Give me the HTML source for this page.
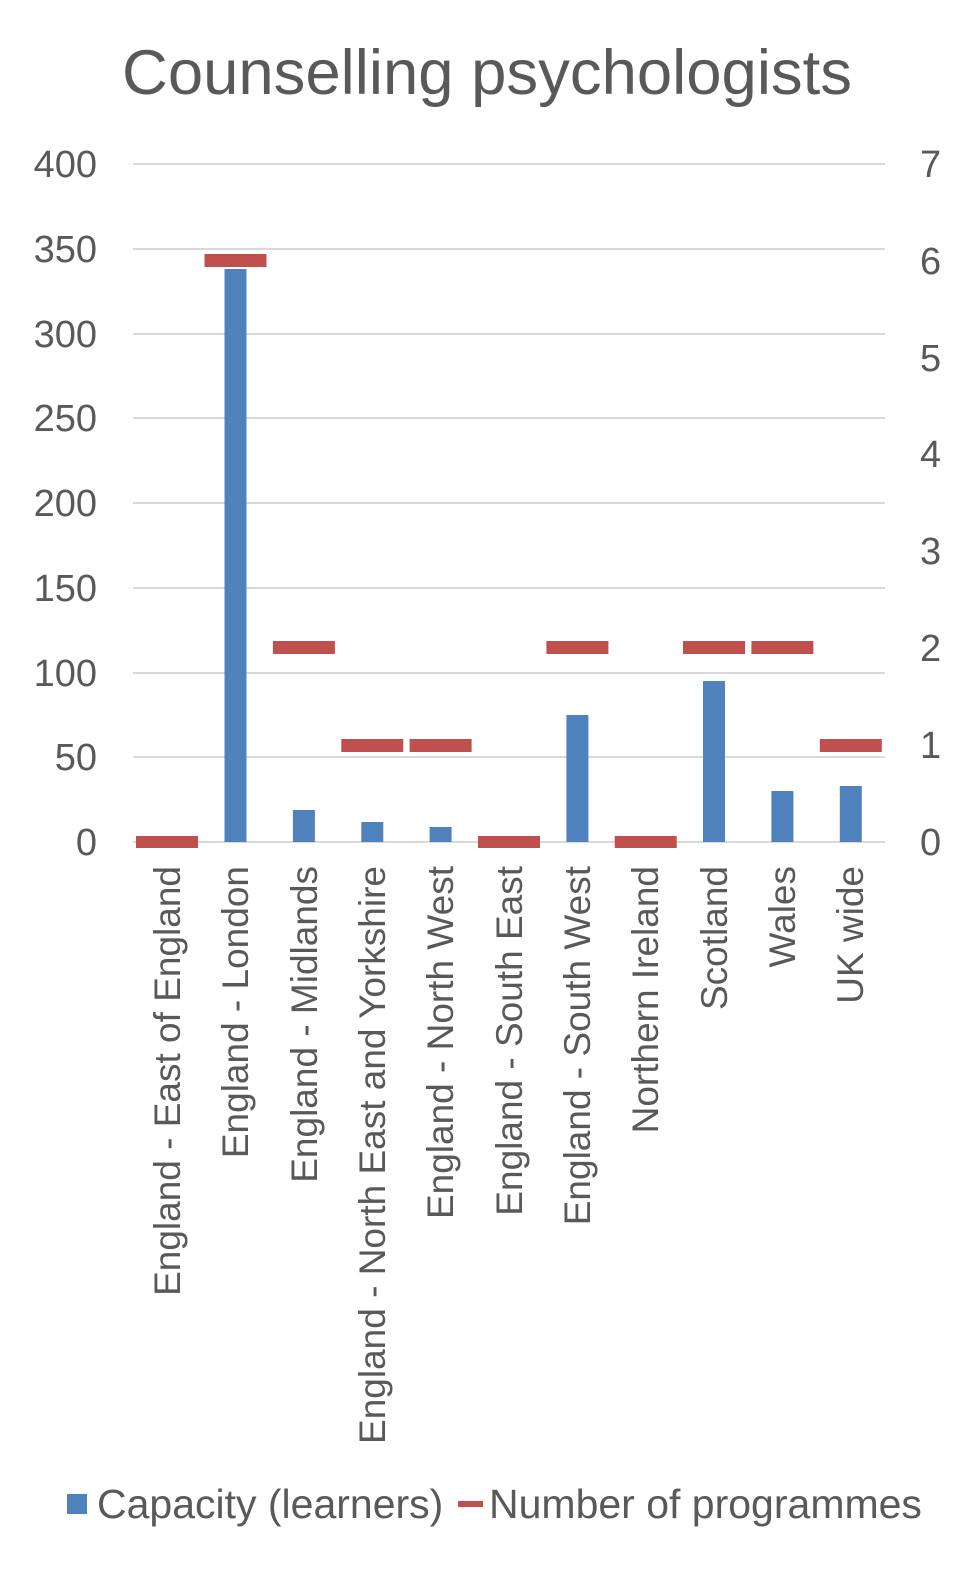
<!DOCTYPE html>
<html><head><meta charset="utf-8"><style>
html,body{margin:0;padding:0;background:#fff;}
svg{display:block;font-family:"Liberation Sans",Arial,sans-serif;}
</style></head><body>
<svg width="979" height="1577" viewBox="0 0 979 1577" xmlns="http://www.w3.org/2000/svg">
<rect width="979" height="1577" fill="#fff"/>
<text x="487" y="94" font-size="63" fill="#595959" text-anchor="middle" textLength="730" lengthAdjust="spacingAndGlyphs">Counselling psychologists</text>
<g stroke="#d9d9d9" stroke-width="2">
<line x1="133" x2="885" y1="164" y2="164"/>
<line x1="133" x2="885" y1="249" y2="249"/>
<line x1="133" x2="885" y1="334" y2="334"/>
<line x1="133" x2="885" y1="418" y2="418"/>
<line x1="133" x2="885" y1="503" y2="503"/>
<line x1="133" x2="885" y1="588" y2="588"/>
<line x1="133" x2="885" y1="673" y2="673"/>
<line x1="133" x2="885" y1="757" y2="757"/>
<line x1="133" x2="885" y1="842" y2="842"/>
</g>
<g font-size="38" fill="#595959" text-anchor="end">
<text x="97" y="177">400</text><text x="97" y="262">350</text><text x="97" y="347">300</text>
<text x="97" y="431">250</text><text x="97" y="516">200</text><text x="97" y="601">150</text>
<text x="97" y="686">100</text><text x="97" y="770">50</text><text x="97" y="855">0</text>
</g>
<g font-size="38" fill="#595959" text-anchor="start">
<text x="920" y="177">7</text><text x="920" y="274">6</text><text x="920" y="371">5</text>
<text x="920" y="467">4</text><text x="920" y="564">3</text><text x="920" y="661">2</text>
<text x="920" y="758">1</text><text x="920" y="855">0</text>
</g>
<g fill="#4f81bd">
<rect x="224.5" y="269" width="22" height="573"/>
<rect x="292.9" y="810" width="22" height="32"/>
<rect x="361.3" y="822" width="22" height="20"/>
<rect x="429.6" y="827" width="22" height="15"/>
<rect x="566.4" y="715" width="22" height="127"/>
<rect x="703" y="681" width="22" height="161"/>
<rect x="771.4" y="791" width="22" height="51"/>
<rect x="839.8" y="786" width="22" height="56"/>
</g>
<g fill="#c0504d">
<rect x="136" y="836" width="62" height="12"/>
<rect x="204.5" y="254" width="62" height="13"/>
<rect x="272.9" y="641" width="62" height="13"/>
<rect x="341.3" y="739" width="62" height="13"/>
<rect x="409.6" y="739" width="62" height="13"/>
<rect x="478" y="836" width="62" height="12"/>
<rect x="546.4" y="641" width="62" height="13"/>
<rect x="614.7" y="836" width="62" height="12"/>
<rect x="683" y="641" width="62" height="13"/>
<rect x="751.4" y="641" width="62" height="13"/>
<rect x="819.8" y="739" width="62" height="13"/>
</g>
<g font-size="37" fill="#595959" text-anchor="end">
<text transform="translate(180,866) rotate(-90)">England - East of England</text>
<text transform="translate(248,866) rotate(-90)">England - London</text>
<text transform="translate(317,866) rotate(-90)">England - Midlands</text>
<text transform="translate(385,866) rotate(-90)">England - North East and Yorkshire</text>
<text transform="translate(453,866) rotate(-90)">England - North West</text>
<text transform="translate(522,866) rotate(-90)">England - South East</text>
<text transform="translate(590,866) rotate(-90)">England - South West</text>
<text transform="translate(658,866) rotate(-90)">Northern Ireland</text>
<text transform="translate(727,866) rotate(-90)">Scotland</text>
<text transform="translate(795,866) rotate(-90)">Wales</text>
<text transform="translate(863,866) rotate(-90)">UK wide</text>
</g>
<rect x="67" y="1494" width="20" height="20" fill="#4f81bd"/>
<text x="97" y="1518" font-size="41" fill="#595959">Capacity (learners)</text>
<rect x="458" y="1501" width="25" height="6" fill="#c0504d"/>
<text x="489" y="1518" font-size="41" fill="#595959">Number of programmes</text>
</svg>
</body></html>
